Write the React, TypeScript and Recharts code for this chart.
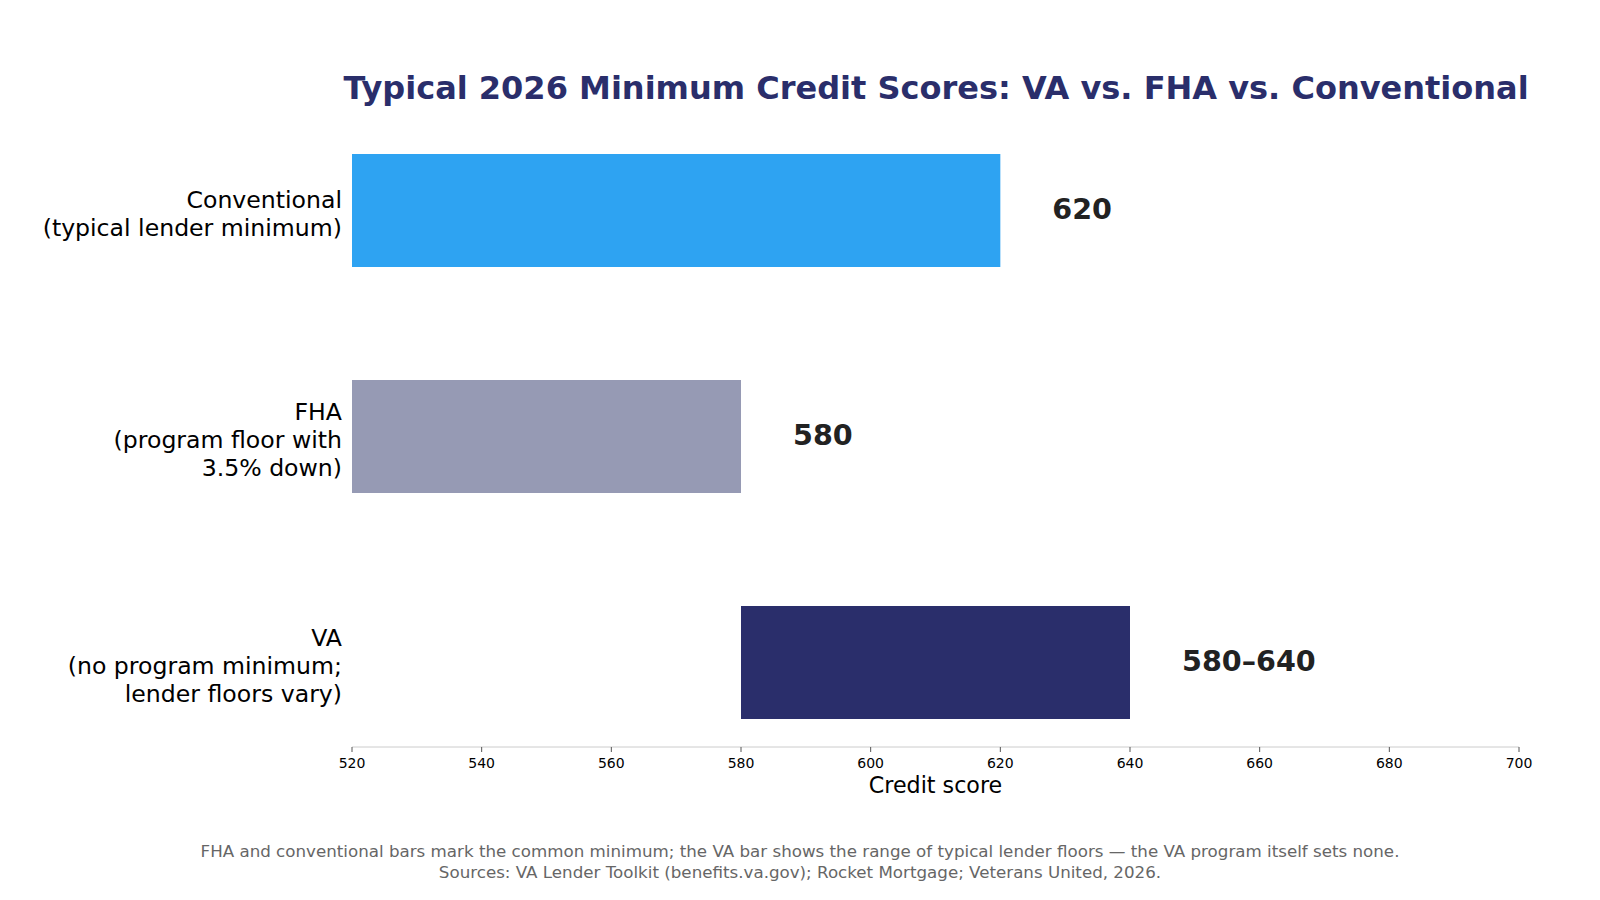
import React from "react";
import { BarChart, Bar, XAxis, YAxis, Cell, LabelList } from "recharts";

// programs, top to bottom
const programs = ["Conventional", "FHA", "VA"];
const labelLines = [
  ["Conventional", "(typical lender minimum)"],
  ["FHA", "(program floor with", "3.5% down)"],
  ["VA", "(no program minimum;", "lender floors vary)"],
];
// minimum score; VA is a range of typical lender floors
const scoreLow = [620, 580, 580];
const scoreHigh = [620, 580, 640];
const valueLabels = ["620", "580", "580\u2013640"];
const barColors = ["#2EA3F2", "#969AB4", "#2A2E6B"];
const xTicks = [520, 540, 560, 580, 600, 620, 640, 660, 680, 700];

const data = programs.map((name, i) => ({
  name,
  score: scoreLow[i] === scoreHigh[i] ? scoreHigh[i] : [scoreLow[i], scoreHigh[i]],
}));

const FONT = "DejaVu Sans, sans-serif";

function CategoryTick(props: any) {
  const { x, y, payload } = props;
  const idx = programs.indexOf(payload.value);
  const lines = labelLines[idx] || [payload.value];
  const lh = 27.6;
  return (
    <g>
      {lines.map((line, i) => (
        <text
          key={i}
          x={x}
          y={y + 4 + (i - (lines.length - 1) / 2) * lh}
          textAnchor="end"
          dominantBaseline="central"
          fontSize={23.6}
          fontFamily={FONT}
          fill="#000"
        >
          {line}
        </text>
      ))}
    </g>
  );
}

function ValueLabel(props: any) {
  const { x, y, width, height, index } = props;
  return (
    <text
      x={x + width + 52}
      y={y + height / 2 - 2}
      dominantBaseline="central"
      fontSize={28.6}
      fontWeight="bold"
      fontFamily={FONT}
      fill="#222222"
    >
      {valueLabels[index]}
    </text>
  );
}

export default function App() {
  return (
    <div style={{ position: "absolute", left: 0, top: 0, width: 1600, height: 900, background: "#fff", fontFamily: FONT }}>
      <div
        style={{
          position: "absolute",
          left: 236,
          width: 1400,
          top: 72,
          textAlign: "center",
          fontSize: 32,
          lineHeight: "32px",
          fontWeight: "bold",
          color: "#2A2E6B",
          whiteSpace: "nowrap",
        }}
      >
        Typical 2026 Minimum Credit Scores: VA vs. FHA vs. Conventional
      </div>
      <BarChart
        width={1600}
        height={900}
        data={data}
        layout="vertical"
        margin={{ top: 125, right: 81, bottom: 105, left: 0 }}
      >
        <XAxis
          type="number"
          domain={[520, 700]}
          ticks={xTicks}
          allowDataOverflow
          stroke="#cccccc"
          tickLine={{ stroke: "#555555" }}
          tickSize={5}
          tickMargin={6}
          height={48}
          tick={{ fontSize: 14, fontFamily: FONT, fill: "#000" }}
          label={{
            value: "Credit score",
            position: "insideBottom",
            offset: 2,
            fontSize: 22.2,
            fontFamily: FONT,
            fill: "#000",
          }}
        />
        <YAxis
          type="category"
          dataKey="name"
          width={352}
          axisLine={false}
          tickLine={false}
          tickSize={0}
          tickMargin={10}
          padding={{ top: -28, bottom: -28 }}
          tick={<CategoryTick />}
        />
        <Bar dataKey="score" barSize={113} isAnimationActive={false}>
          {data.map((d, i) => (
            <Cell key={d.name} fill={barColors[i]} />
          ))}
          <LabelList content={<ValueLabel />} />
        </Bar>
      </BarChart>
      <div
        style={{
          position: "absolute",
          left: 0,
          width: 1600,
          top: 841,
          textAlign: "center",
          fontSize: 16.7,
          lineHeight: "21.4px",
          color: "#666666",
        }}
      >
        FHA and conventional bars mark the common minimum; the VA bar shows the range of typical lender floors — the VA program itself sets none.
        <br />
        Sources: VA Lender Toolkit (benefits.va.gov); Rocket Mortgage; Veterans United, 2026.
      </div>
    </div>
  );
}
